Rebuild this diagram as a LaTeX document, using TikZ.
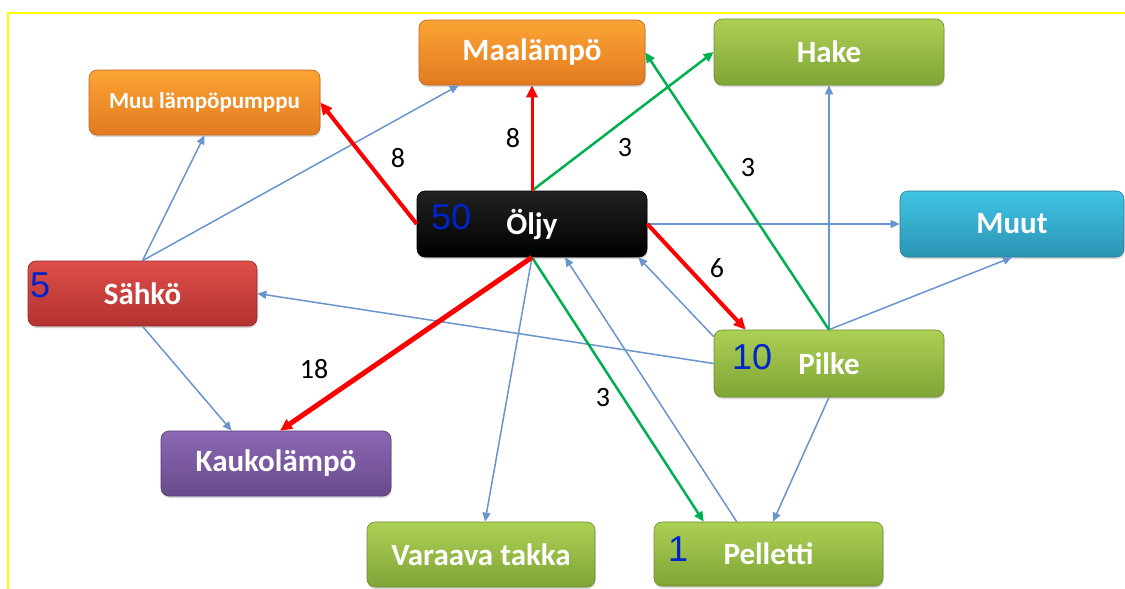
\documentclass[tikz,border=0pt]{standalone}
\usepackage{fontspec}
\setmainfont{Carlito}
\newfontfamily\numfont{Liberation Sans}
\usetikzlibrary{arrows.meta,shadows}
\definecolor{orTop}{RGB}{251,164,52}
\definecolor{orBot}{RGB}{226,122,32}
\definecolor{orLine}{RGB}{190,100,30}
\definecolor{grTop}{RGB}{172,208,84}
\definecolor{grBot}{RGB}{128,164,54}
\definecolor{grLine}{RGB}{110,140,50}
\definecolor{reTop}{RGB}{222,78,74}
\definecolor{reBot}{RGB}{178,50,48}
\definecolor{reLine}{RGB}{150,40,40}
\definecolor{puTop}{RGB}{140,104,180}
\definecolor{puBot}{RGB}{104,74,140}
\definecolor{puLine}{RGB}{85,60,115}
\definecolor{cyTop}{RGB}{64,196,228}
\definecolor{cyBot}{RGB}{44,148,180}
\definecolor{cyLine}{RGB}{40,120,150}
\definecolor{blTop}{RGB}{34,34,34}
\definecolor{blBot}{RGB}{0,0,0}
\definecolor{numBlue}{RGB}{0,36,204}
\definecolor{connBlue}{RGB}{105,148,205}
\definecolor{connGreen}{RGB}{0,176,80}
\definecolor{connRed}{RGB}{255,0,0}
\definecolor{frameYellow}{RGB}{255,255,0}
\begin{document}
\begin{tikzpicture}[x=1pt,y=-1pt,
  box/.style={rounded corners=8pt, minimum width=230pt, minimum height=65pt,
    inner sep=0pt, text=white, font=\bfseries\fontsize{31}{36}\selectfont,
    drop shadow={shadow xshift=0.5pt,shadow yshift=-2pt,opacity=0.3}},
  orangebox/.style={box, top color=orTop, bottom color=orBot, draw=orLine, line width=0.6pt},
  greenbox/.style={box, top color=grTop, bottom color=grBot, draw=grLine, line width=0.6pt},
  redbox/.style={box, top color=reTop, bottom color=reBot, draw=reLine, line width=0.6pt},
  purplebox/.style={box, top color=puTop, bottom color=puBot, draw=puLine, line width=0.6pt},
  cyanbox/.style={box, top color=cyTop, bottom color=cyBot, draw=cyLine, line width=0.6pt},
  blackbox/.style={box, top color=blTop, bottom color=blBot, draw=black, line width=0.6pt},
  bignum/.style={text=numBlue, font=\numfont\fontsize{36}{40}\selectfont, inner sep=0pt, anchor=west},
  flowlabel/.style={text=black, font=\fontsize{28}{32}\selectfont, inner sep=0pt},
  bluearr/.style={draw=connBlue, line width=1.5pt, -{Triangle[length=9pt,width=8pt]}},
  greenarr/.style={draw=connGreen, line width=2.5pt, -{Triangle[length=10pt,width=9pt]}},
  redarr/.style={draw=connRed, line width=#1, -{Triangle[length=12pt,width=11pt]}},
  redarr/.default=4pt
]
\useasboundingbox (0,0) rectangle (1125,589);
\fill[white] (0,0) rectangle (1125,589);
\draw[frameYellow, line width=2pt] (8,589) -- (8,13) -- (1125,13);

% nodes
\node[orangebox, minimum width=226pt] (maal) at (532,52.5) {Maalämpö};
\node[orangebox, minimum width=231pt, font=\bfseries\fontsize{23}{27}\selectfont] (muu) at (204.5,102.5) {Muu lämpöpumppu};
\node[greenbox, minimum height=66pt] (hake) at (829,52) {Hake};
\node[cyanbox, minimum width=224pt, minimum height=66pt] (muut) at (1012,224) {Muut};
\node[blackbox, minimum height=66pt] (oljy) at (532,224) {Öljy};
\node[redbox, minimum width=229pt] (sahko) at (142.5,293.5) {Sähkö};
\node[purplebox] (kauk) at (276,463.5) {Kaukolämpö};
\node[greenbox, minimum width=228pt] (vara) at (481,554.5) {Varaava takka};
\node[greenbox, minimum width=229pt, minimum height=64pt] (pell) at (768.5,554) {Pelletti};
\node[greenbox, minimum height=67pt] (pilke) at (829,363.5) {Pilke};

% blue numbers
\node[bignum] (n50) at (431,217) {50};
\node[bignum] (n5) at (30,285) {5};
\node[bignum] (n10) at (732,357) {10};
\node[bignum] (n1) at (668,549) {1};

% blue connectors
\draw[bluearr] (sahko.north) -- (muu.south);
\draw[bluearr] (sahko.north) -- ([xshift=40pt]maal.south west);
\draw[bluearr] (sahko.south) -- ([xshift=71pt]kauk.north west);
\draw[bluearr] (oljy.east) -- (muut.west);
\draw[bluearr] (oljy.south) -- ([xshift=4pt]vara.north);
\draw[bluearr] ([xshift=83pt]pell.north west) -- ([xshift=33pt]oljy.south);
\draw[bluearr] ([yshift=-7pt]pilke.north west) -- ([xshift=-9pt]oljy.south east);
\draw[bluearr] (pilke.west) -- (sahko.east);
\draw[bluearr] (pilke.north) -- (hake.south);
\draw[bluearr] (pilke.north) -- (muut.south);
\draw[bluearr] (pilke.south) -- ([xshift=4.5pt]pell.north);

% green connectors
\draw[greenarr] (oljy.north) -- (hake.west);
\draw[greenarr] (pilke.north) -- (maal.east);
\draw[greenarr] (oljy.south) -- ([xshift=50pt]pell.north west);

% red connectors
\draw[redarr=4pt] (oljy.west) -- (muu.east);
\draw[redarr=3pt] (oljy.north) -- (maal.south);
\draw[redarr=4pt] (oljy.east) -- ([xshift=32pt]pilke.north west);
\draw[redarr=5pt] (oljy.south) -- ([xshift=4pt]kauk.north);

% flow labels
\node[flowlabel] (l8a) at (398,158) {8};
\node[flowlabel] (l8b) at (513,138) {8};
\node[flowlabel] (l3a) at (625,148) {3};
\node[flowlabel] (l3b) at (748,168) {3};
\node[flowlabel] (l6) at (717,268) {6};
\node[flowlabel] (l18) at (314,369) {18};
\node[flowlabel] (l3c) at (603,398) {3};
\end{tikzpicture}
\end{document}
